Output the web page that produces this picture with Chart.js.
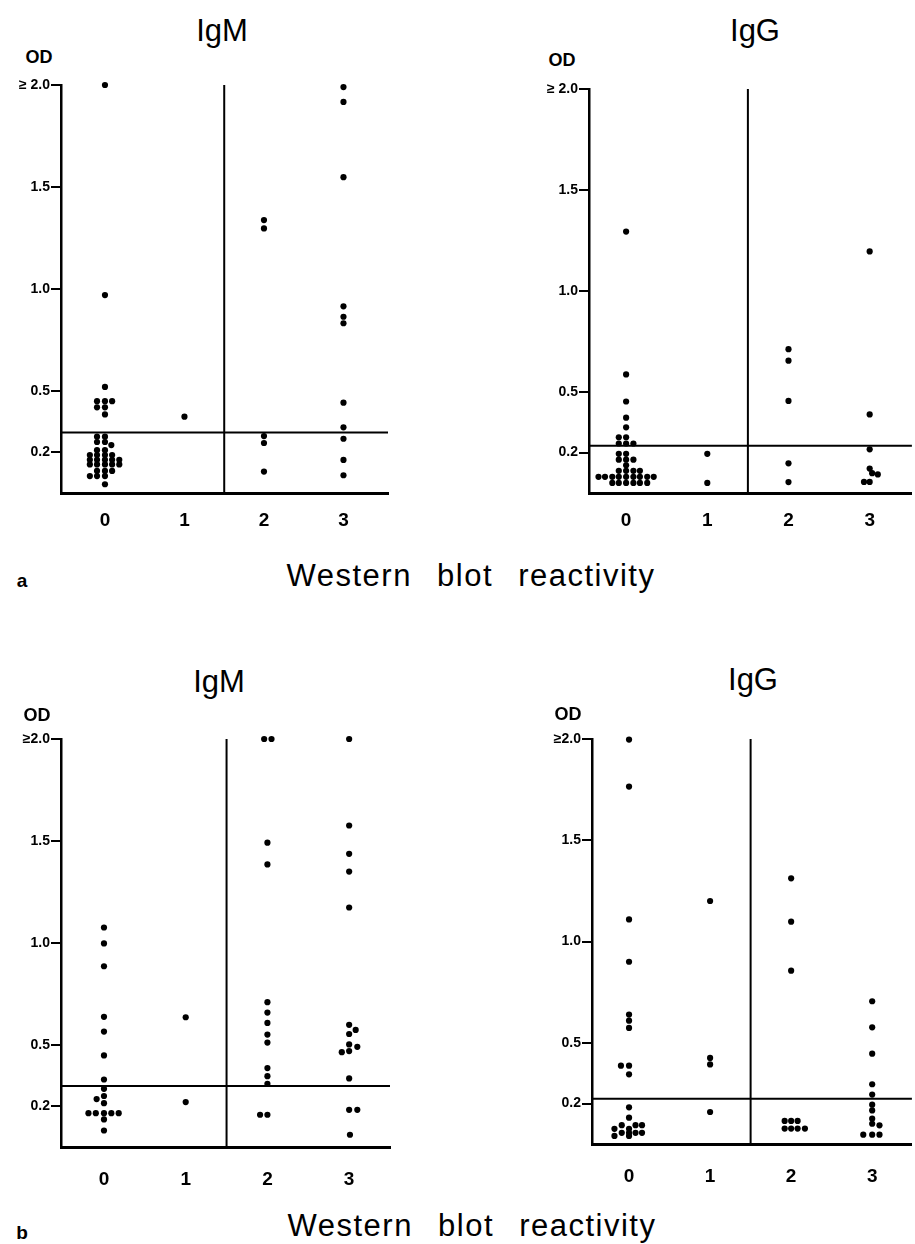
<!DOCTYPE html>
<html>
<head>
<meta charset="utf-8">
<script src="https://cdn.jsdelivr.net/npm/chart.js@4.4.1/dist/chart.umd.min.js"></script>
<style>
body{margin:0;background:#fff;}
#page{position:relative;width:915px;height:1244px;overflow:hidden;background:#fff;font-family:"Liberation Sans",Arial,sans-serif;color:#000;}
canvas{position:absolute;}
.t{position:absolute;transform:translate(-50%,-50%);white-space:nowrap;line-height:1;}
.title{font-size:31px;}
.od{font-size:18px;font-weight:bold;}
.xt{font-size:31px;word-spacing:15px;letter-spacing:1.5px;}
.pl{font-size:19px;font-weight:bold;}
</style>
</head>
<body>
<div id="page">
<canvas id="aIgM"></canvas>
<canvas id="aIgG"></canvas>
<canvas id="bIgM"></canvas>
<canvas id="bIgG"></canvas>

<div class="t title" style="left:222px;top:30px">IgM</div>
<div class="t title" style="left:755px;top:30px">IgG</div>
<div class="t od" style="left:39px;top:57px">OD</div>
<div class="t od" style="left:562px;top:60px">OD</div>
<div class="t pl" style="left:22px;top:580px">a</div>
<div class="t xt" style="left:471px;top:575px">Western blot reactivity</div>

<div class="t title" style="left:219px;top:681px">IgM</div>
<div class="t title" style="left:753px;top:679px">IgG</div>
<div class="t od" style="left:37px;top:715px">OD</div>
<div class="t od" style="left:568px;top:714px">OD</div>
<div class="t pl" style="left:22px;top:1232px">b</div>
<div class="t xt" style="left:472px;top:1225px">Western blot reactivity</div>
</div>

<script>
// Western blot reactivity categories and OD axis
const xCats=[0,1,2,3];
const xLabels=["0","1","2","3"];
const yTicks=[0.2,0.5,1.0,1.5,2.0];
const yLabelsA=["0.2","0.5","1.0","1.5","≥ 2.0"];
const yLabelsB=["0.2","0.5","1.0","1.5","≥2.0"];

// cut-off OD per panel
const cutA_IgM=0.296;
const cutA_IgG=0.234;
const cutB_IgM=0.299;
const cutB_IgG=0.224;

// points: [reactivity (with small spread), OD]
const aIgM=[
[0,2.0],[0,0.97],[0,0.52],
[-0.1,0.45],[0,0.45],[0.09,0.45],[-0.1,0.42],[0,0.42],[0,0.385],
[-0.1,0.276],[0,0.276],[-0.1,0.25],[0,0.25],[0.08,0.235],[-0.1,0.21],[0,0.21],
[-0.19,0.186],[-0.1,0.186],[0,0.186],[0.09,0.186],
[-0.19,0.163],[-0.1,0.163],[0,0.163],[0.09,0.163],[0.18,0.163],
[-0.19,0.14],[-0.1,0.14],[0,0.14],[0.09,0.14],[0.18,0.14],
[-0.1,0.108],[0,0.108],[0.09,0.108],
[-0.19,0.083],[-0.1,0.083],[0,0.083],[0,0.043],
[1,0.374],
[2,1.338],[2,1.297],[2,0.279],[2,0.245],[2,0.105],
[3,1.99],[3,1.917],[3,1.548],[3,0.915],[3,0.864],[3,0.832],[3,0.443],[3,0.322],[3,0.266],[3,0.162],[3,0.087]
];

const aIgG=[
[0,1.294],[0,0.587],[0,0.453],[0,0.373],[0,0.325],
[-0.09,0.276],[0,0.276],[-0.09,0.245],[0,0.245],[0.09,0.245],
[-0.09,0.194],[0,0.194],[-0.09,0.165],[0,0.165],[0.09,0.165],[0,0.137],
[-0.09,0.11],[0,0.11],[0.09,0.11],[0.17,0.11],
[-0.34,0.08],[-0.26,0.08],[-0.17,0.08],[-0.09,0.08],[0,0.08],[0.09,0.08],[0.17,0.08],[0.26,0.08],[0.34,0.08],
[-0.17,0.05],[-0.09,0.05],[0,0.05],[0.09,0.05],[0.17,0.05],[0.26,0.05],
[1,0.194],[1,0.05],
[2,0.712],[2,0.655],[2,0.456],[2,0.147],[2,0.054],
[3,1.196],[3,0.389],[3,0.216],[3,0.121],[3.03,0.098],[3.1,0.092],[2.93,0.055],[3,0.055]
];

const bIgM=[
[0,1.076],[0,0.998],[0,0.886],[0,0.638],[0,0.566],[0,0.449],[0,0.331],[0,0.285],[0,0.25],
[-0.09,0.235],[0,0.215],
[-0.19,0.166],[-0.1,0.166],[0,0.166],[0.09,0.166],[0.18,0.166],[0,0.135],[0,0.081],
[1,0.636],[1,0.22],
[1.96,2.0],[2.05,2.0],[2,1.492],[2,1.385],[2,0.71],[2,0.659],[2,0.608],[2,0.551],[2,0.512],
[2,0.387],[2,0.347],[2,0.31],[1.91,0.158],[2,0.158],
[3,2.0],[3,1.576],[3,1.437],[3,1.35],[3,1.174],[3,0.599],[3.08,0.574],[3,0.554],[3,0.503],
[3.1,0.491],[2.91,0.465],[3,0.47],[3,0.336],[3,0.182],[3.1,0.182],[3.01,0.06]
];

const bIgG=[
[0,1.997],[0,1.765],[0,1.109],[0,0.9],[0,0.639],[0,0.609],[0,0.573],[-0.1,0.387],[0,0.387],[0,0.344],
[0,0.181],[0,0.13],
[-0.09,0.093],[0.08,0.093],[0.16,0.093],[-0.18,0.075],[0,0.075],
[-0.09,0.055],[0,0.055],[0.08,0.055],[0.16,0.055],[-0.18,0.04],[0,0.04],
[1,1.2],[1,0.425],[1,0.393],[1,0.158],
[2,1.312],[2,1.098],[2,0.856],[1.92,0.114],[2,0.114],[2.08,0.114],[1.92,0.076],[2,0.076],[2.08,0.076],[2.17,0.076],
[3,0.705],[3,0.576],[3,0.446],[3,0.295],[3,0.244],[3,0.194],[3,0.166],[3,0.125],[3,0.1],[3.09,0.092],
[2.89,0.046],[3,0.046],[3.09,0.046]
];

const FONT='"Liberation Sans", Arial, sans-serif';

function drawPanel(id,pts,cutoff,yLabels,box){
let cv=document.getElementById(id);
cv.width=box.w;
cv.height=box.h;
cv.style.left=box.l+"px";
cv.style.top=box.t+"px";

new Chart(cv,{
type:"scatter",
data:{
datasets:[
{
data:pts.map(p=>({x:p[0],y:p[1]})),
pointRadius:3.1,
pointHoverRadius:3.1,
backgroundColor:"#000",
borderWidth:0,
clip:false
},
{
data:[{x:1.5,y:0},{x:1.5,y:2}],
showLine:true,
borderColor:"#000",
borderWidth:2,
pointRadius:0
},
{
data:[{x:box.xMin,y:cutoff},{x:box.xMax,y:cutoff}],
showLine:true,
borderColor:"#000",
borderWidth:2,
pointRadius:0
}
]
},
options:{
responsive:false,
animation:false,
devicePixelRatio:1,
layout:{padding:{top:box.padTop,right:box.padRight,left:0,bottom:0}},
plugins:{legend:{display:false},tooltip:{enabled:false}},
scales:{
x:{
type:"linear",
min:box.xMin,
max:box.xMax,
afterBuildTicks:s=>{s.ticks=xCats.map(v=>({value:v}));},
afterFit:s=>{s.height=box.axisH;},
ticks:{
color:"#000",
font:{family:FONT,size:19,weight:"bold"},
padding:box.lblPad,
maxRotation:0,
autoSkip:false,
callback:v=>xLabels[xCats.indexOf(v)]
},
grid:{display:false,drawTicks:false},
border:{display:true,color:"#000",width:3}
},
y:{
min:0,
max:2,
afterBuildTicks:s=>{s.ticks=yTicks.map(v=>({value:v}));},
afterFit:s=>{s.width=box.axisW;},
ticks:{
color:"#000",
font:{family:FONT,size:14,weight:"bold"},
padding:1,
autoSkip:false,
callback:v=>yLabels[yTicks.indexOf(v)]
},
grid:{display:true,drawOnChartArea:false,drawTicks:true,tickLength:10,color:"#000",lineWidth:2},
border:{display:true,color:"#000",width:2.5}
}
}
}
});
}

drawPanel("aIgM",aIgM,cutA_IgM,yLabelsA,{l:0,t:70,w:400,h:470,axisW:61,axisH:47,padTop:15,padRight:12,lblPad:16,xMin:-0.553,xMax:3.56});
drawPanel("aIgG",aIgG,cutA_IgG,yLabelsA,{l:520,t:70,w:395,h:470,axisW:69,axisH:47,padTop:19,padRight:0,lblPad:16,xMin:-0.457,xMax:3.52});
drawPanel("bIgM",bIgM,cutB_IgM,yLabelsB,{l:0,t:720,w:400,h:480,axisW:61,axisH:53,padTop:19,padRight:10,lblPad:21,xMin:-0.526,xMax:3.5});
drawPanel("bIgG",bIgG,cutB_IgG,yLabelsB,{l:520,t:720,w:395,h:480,axisW:72,axisH:56,padTop:19,padRight:0,lblPad:21,xMin:-0.457,xMax:3.49});
</script>
</body>
</html>
